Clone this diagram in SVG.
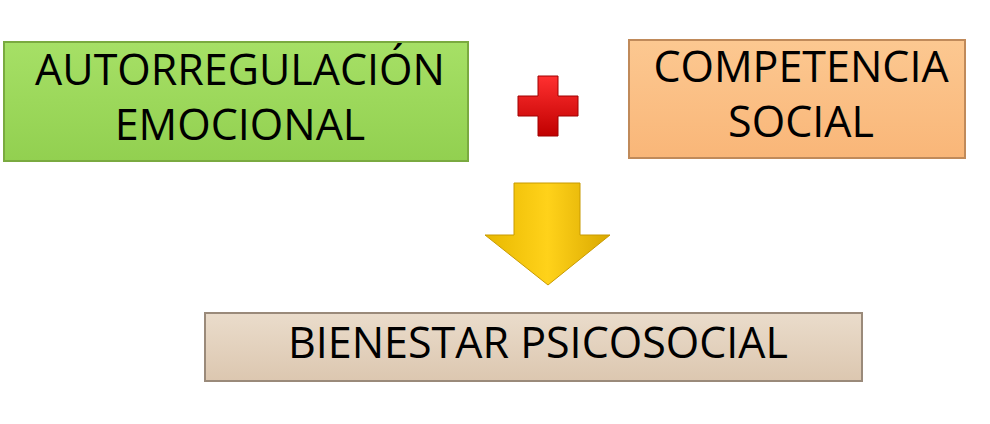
<svg xmlns="http://www.w3.org/2000/svg" width="990" height="424" viewBox="0 0 990 424">
<defs>
<linearGradient id="gG" x1="0" y1="0" x2="0" y2="1"><stop offset="0" stop-color="#a6e066"/><stop offset="1" stop-color="#92d050"/></linearGradient>
<linearGradient id="gO" x1="0" y1="0" x2="0" y2="1"><stop offset="0" stop-color="#fcc891"/><stop offset="1" stop-color="#f9b678"/></linearGradient>
<linearGradient id="gB" x1="0" y1="0" x2="0" y2="1"><stop offset="0" stop-color="#eadccb"/><stop offset="1" stop-color="#dcc7b0"/></linearGradient>
<linearGradient id="gY" x1="0" y1="0" x2="1" y2="0"><stop offset="0" stop-color="#e8b800"/><stop offset="0.5" stop-color="#ffd21a"/><stop offset="1" stop-color="#d9a800"/></linearGradient>
<linearGradient id="gR" x1="0" y1="0" x2="0" y2="1"><stop offset="0" stop-color="#ff3030"/><stop offset="1" stop-color="#c00000"/></linearGradient>
</defs>
<style>
.box{stroke-width:2}
.t{font-family:"Open Sans","Liberation Sans",sans-serif;font-size:43px;fill:#000;text-anchor:middle}
</style>
<g id="autorregulacion">
<rect class="box" x="4" y="42" width="464" height="119" fill="url(#gG)" stroke="#7aaa40"/>
<text class="t" x="240" y="85">AUTORREGULACIÓN</text>
<text class="t" x="240" y="140">EMOCIONAL</text>
</g>
<g id="plus">
<path d="M538 76h20v20h20v20h-20v20h-20v-20h-20v-20h20z" fill="url(#gR)" stroke="#a00000" stroke-width="1"/>
</g>
<g id="competencia">
<rect class="box" x="629" y="40" width="336" height="118" fill="url(#gO)" stroke="#c08a5a"/>
<text class="t" x="801" y="82">COMPETENCIA</text>
<text class="t" x="801" y="137">SOCIAL</text>
</g>
<g id="connectors">
<path d="M514 183h66v52h30l-62 50l-63-50h29z" fill="url(#gY)" stroke="#c89a00" stroke-width="1"/>
</g>
<g id="bienestar">
<rect class="box" x="205" y="313" width="657" height="68" fill="url(#gB)" stroke="#9a8a7a"/>
<text class="t" x="538" y="358">BIENESTAR PSICOSOCIAL</text>
</g>
</svg>
